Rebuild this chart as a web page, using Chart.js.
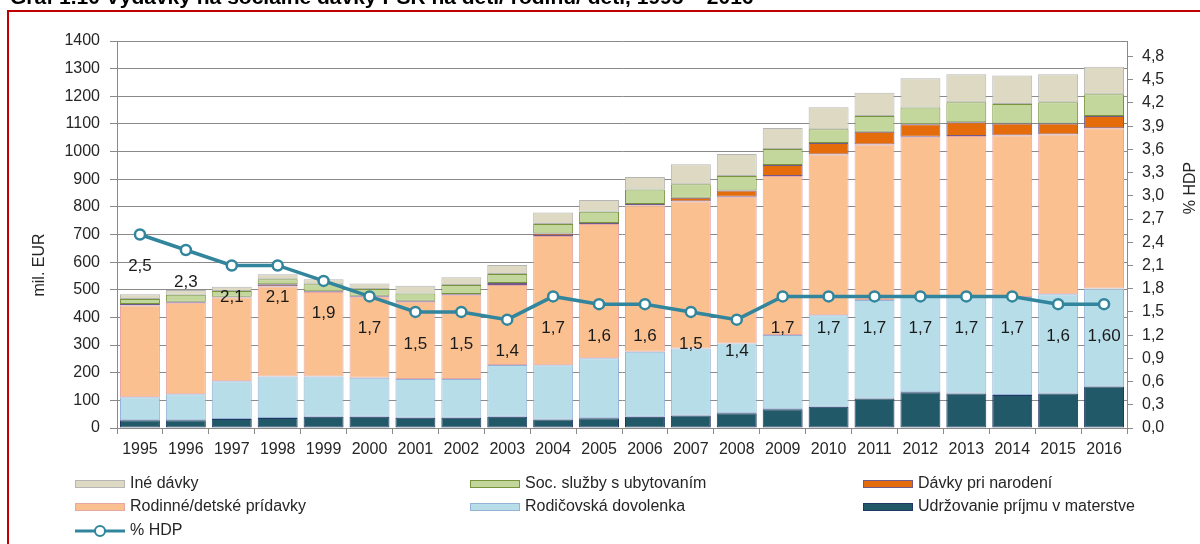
<!DOCTYPE html>
<html>
<head>
<meta charset="utf-8">
<script src="https://cdn.jsdelivr.net/npm/chart.js@4"></script>
<style>
html, body { margin: 0; padding: 0; background: #fff; }
#wrap { position: relative; width: 1200px; height: 544px; }
</style>
</head>
<body>
<div id="wrap"><canvas id="chart" width="1200" height="544"></canvas></div>
<script>
const years = ['1995','1996','1997','1998','1999','2000','2001','2002','2003','2004','2005','2006','2007','2008','2009','2010','2011','2012','2013','2014','2015','2016'];

// mil. EUR, stacked from bottom
const udrzovanie = [28, 28, 33, 36, 41, 41, 37, 37, 41, 31, 35, 41, 45, 53, 68, 77, 107, 129, 125, 119, 125, 150];
const rodicovska = [83, 94, 136, 150, 145, 141, 140, 140, 187, 196, 217, 235, 243, 253, 268, 331, 356, 346, 347, 355, 359, 355];
const rodinne = [332, 331, 303, 326, 306, 293, 280, 305, 289, 468, 486, 530, 531, 531, 576, 581, 563, 579, 584, 584, 578, 579];
const narodenie = [6, 4, 3, 8, 3, 3, 3, 3, 8, 9, 4, 4, 14, 22, 39, 42, 46, 45, 50, 44, 40, 45];
const socSluzby = [18, 25, 21, 18, 25, 25, 27, 32, 32, 34, 40, 53, 49, 53, 58, 50, 57, 60, 72, 70, 76, 78];
const ine = [17, 17, 15, 18, 18, 20, 28, 28, 33, 42, 43, 45, 72, 79, 76, 79, 84, 106, 102, 103, 102, 100];

// % HDP
const hdp = [2.5, 2.3, 2.1, 2.1, 1.9, 1.7, 1.5, 1.5, 1.4, 1.7, 1.6, 1.6, 1.5, 1.4, 1.7, 1.7, 1.7, 1.7, 1.7, 1.7, 1.6, 1.6];
const hdpLabels = ['2,5','2,3','2,1','2,1','1,9','1,7','1,5','1,5','1,4','1,7','1,6','1,6','1,5','1,4','1,7','1,7','1,7','1,7','1,7','1,7','1,6','1,60'];

const FONT = '"Liberation Sans", Arial, sans-serif';
const gridColor = '#8a8a8a';
const textColor = '#262626';

function barSet(label, data, fill, border) {
    return {
        type: 'bar',
        label: label,
        data: data,
        backgroundColor: fill,
        borderColor: border,
        borderWidth: 1,
        borderSkipped: false,
        barPercentage: 0.87,
        categoryPercentage: 1,
        stack: 'a',
        yAxisID: 'y',
        order: 1
    };
}

const datasets = [
    barSet('Udržovanie príjmu v materstve', udrzovanie, '#215968', '#1f3864'),
    barSet('Rodičovská dovolenka', rodicovska, '#b7dde8', '#95b3d7'),
    barSet('Rodinné/detské prídavky', rodinne, '#fac090', '#e6a6a4'),
    barSet('Dávky pri narodení', narodenie, '#e46c0a', '#6f5a8a'),
    barSet('Soc. služby s ubytovaním', socSluzby, '#c3d69b', '#77933c'),
    barSet('Iné dávky', ine, '#ddd9c3', '#b5b5b5'),
    {
        type: 'line',
        label: '% HDP',
        data: hdp,
        yAxisID: 'y1',
        borderColor: '#31859c',
        borderWidth: 3.5,
        pointRadius: 5,
        pointBorderWidth: 2.5,
        pointBackgroundColor: '#ffffff',
        pointBorderColor: '#31859c',
        tension: 0,
        order: 0
    }
];

// legend order as it appears under the chart
const legendRows = [
    [5, 4, 3],
    [2, 1, 0],
    [6]
];
const legendCols = [75, 470, 863];
const legendY = [484, 507, 531];

const decor = {
    id: 'decor',
    afterDatasetsDraw(chart) {
        const ctx = chart.ctx;
        const meta = chart.getDatasetMeta(6);
        ctx.save();
        ctx.font = '17px ' + FONT;
        ctx.fillStyle = '#1a1a1a';
        ctx.textAlign = 'center';
        ctx.textBaseline = 'middle';
        meta.data.forEach(function (pt, i) {
            ctx.fillText(hdpLabels[i], pt.x, pt.y + 32);
        });
        ctx.restore();
    },
    afterDraw(chart) {
        const ctx = chart.ctx;
        ctx.save();

        // title, cut off by the top edge
        ctx.font = 'bold 21px ' + FONT;
        ctx.fillStyle = '#000';
        ctx.textBaseline = 'alphabetic';
        ctx.fillText('Graf 1.10 Výdavky na sociálne dávky PSR na deti/ rodinu/ deti, 1995 – 2016', 10, 4);

        // red frame
        ctx.strokeStyle = '#c00000';
        ctx.lineWidth = 2;
        ctx.beginPath();
        ctx.moveTo(8, 544);
        ctx.lineTo(8, 11);
        ctx.lineTo(1200, 11);
        ctx.stroke();

        // axis titles
        ctx.font = '16px ' + FONT;
        ctx.fillStyle = textColor;
        ctx.textAlign = 'center';
        ctx.textBaseline = 'middle';
        ctx.save();
        ctx.translate(40, 265);
        ctx.rotate(-Math.PI / 2);
        ctx.fillText('mil. EUR', 0, 0);
        ctx.restore();
        ctx.save();
        ctx.translate(1191, 188);
        ctx.rotate(-Math.PI / 2);
        ctx.fillText('% HDP', 0, 0);
        ctx.restore();

        // legend
        ctx.textAlign = 'left';
        legendRows.forEach(function (row, r) {
            row.forEach(function (di, c) {
                const ds = chart.data.datasets[di];
                const x = legendCols[c];
                const y = legendY[r];
                if (ds.type === 'line') {
                    ctx.strokeStyle = ds.borderColor;
                    ctx.lineWidth = 3;
                    ctx.beginPath();
                    ctx.moveTo(x, y);
                    ctx.lineTo(x + 50, y);
                    ctx.stroke();
                    ctx.beginPath();
                    ctx.arc(x + 25, y, 5, 0, Math.PI * 2);
                    ctx.fillStyle = '#fff';
                    ctx.fill();
                    ctx.lineWidth = 2;
                    ctx.stroke();
                } else {
                    ctx.fillStyle = ds.backgroundColor;
                    ctx.fillRect(x, y - 4, 50, 8);
                    ctx.strokeStyle = ds.borderColor;
                    ctx.lineWidth = 1;
                    ctx.strokeRect(x + 0.5, y - 3.5, 49, 7);
                }
                ctx.fillStyle = textColor;
                ctx.fillText(ds.label, x + 55, y);
            });
        });
        ctx.restore();
    }
};

const ctx = document.getElementById('chart').getContext('2d');
new Chart(ctx, {
    data: {
        labels: years,
        datasets: datasets
    },
    options: {
        responsive: false,
        animation: false,
        devicePixelRatio: 1,
        layout: {
            padding: { top: 41, left: 0, right: 0, bottom: 0 }
        },
        plugins: {
            legend: { display: false },
            tooltip: { enabled: false }
        },
        scales: {
            x: {
                stacked: true,
                afterFit: function (s) { s.height = 116; },
                grid: { offset: true, drawOnChartArea: false, drawTicks: true, tickLength: 6, color: gridColor },
                border: { color: gridColor },
                ticks: { color: textColor, font: { family: FONT, size: 16 }, padding: 6, maxRotation: 0, autoSkip: false }
            },
            y: {
                stacked: true,
                position: 'left',
                min: 0,
                max: 1400,
                afterFit: function (s) { s.width = 117; },
                grid: { color: gridColor, tickLength: 7 },
                border: { color: gridColor },
                ticks: {
                    stepSize: 100,
                    color: textColor,
                    font: { family: FONT, size: 16 },
                    padding: 10,
                    callback: function (v) { return String(v); }
                }
            },
            y1: {
                position: 'right',
                min: 0,
                max: 5,
                afterFit: function (s) { s.width = 73; },
                grid: { drawOnChartArea: false, color: gridColor, tickLength: 6 },
                border: { color: gridColor },
                ticks: {
                    stepSize: 0.3,
                    includeBounds: false,
                    color: textColor,
                    font: { family: FONT, size: 16 },
                    padding: 9,
                    callback: function (v) { return v.toFixed(1).replace('.', ','); }
                }
            }
        }
    },
    plugins: [decor]
});
</script>
</body>
</html>
